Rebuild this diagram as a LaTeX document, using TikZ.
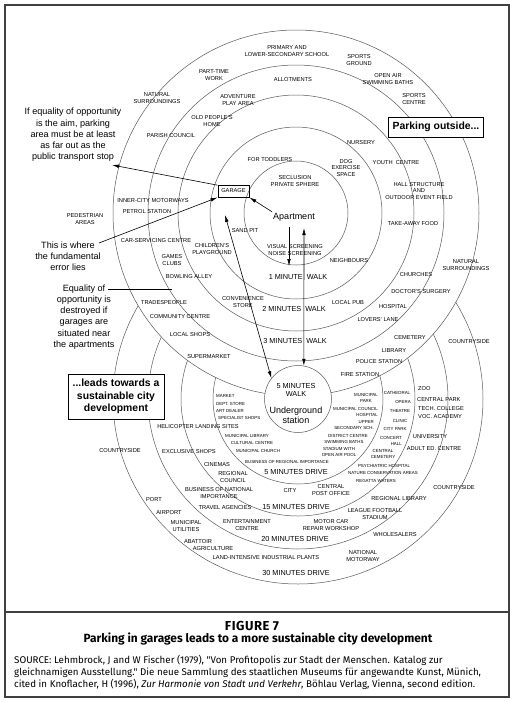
\documentclass[tikz,border=0pt]{standalone}
\usepackage{fontspec}
\setmainfont{Liberation Sans}
\newfontfamily\capfont{Fira Sans}
\newfontfamily\capwide[LetterSpace=4]{Fira Sans}
\usetikzlibrary{arrows.meta}
\newcommand{\lblfnt}{\fontsize{5.7}{6.8}\selectfont}
\newcommand{\smlfnt}{\fontsize{4.4}{6}\selectfont}
\newcommand{\bigfnt}{\fontsize{7.3}{8.6}\selectfont}
\newcommand{\notefnt}{\fontsize{9.1}{11.2}\selectfont}
\begin{document}
\begin{tikzpicture}[x=1pt,y=-1pt,
  lbl/.style={font=\lblfnt, align=center, inner sep=0pt},
  sml/.style={font=\smlfnt, align=center, inner sep=0pt},
  big/.style={font=\bigfnt, align=center, inner sep=0pt},
  note/.style={font=\notefnt, align=center, inner sep=0pt},
  ring/.style={draw=black!65, line width=0.5pt},
  frame/.style={draw=black!75, line width=1.3pt},
  boldbox/.style={draw, line width=1pt, fill=white, align=center, inner sep=2pt,
    font=\bfseries\fontsize{10.4}{12.5}\selectfont},
  arr/.style={line width=0.6pt, -{Latex[length=7pt,width=3.6pt]}},
  dbl/.style={line width=0.6pt, {Latex[length=7pt,width=3.6pt]}-{Latex[length=7pt,width=3.6pt]}},
  plainline/.style={line width=0.6pt},
  srcline/.style={font=\capfont\fontsize{9.75}{11}\selectfont, inner sep=0pt, anchor=base west}]
\useasboundingbox (0,0) rectangle (516,702);
% ---------------- rings
\coordinate (cU) at (296,213);
\coordinate (cL) at (298,399);
\foreach \r in {85,117,150,185} \draw[ring] (cL) circle[radius=\r pt];
\filldraw[ring, fill=white] (cU) circle[radius=183pt];
\foreach \r in {52,86,118,148} \draw[ring] (cU) circle[radius=\r pt];
\node[draw=black!65, line width=0.5pt, fill=white, circle, minimum size=67pt, inner sep=0pt] (stn) at (cL) {};
\node[big] (stn5) at (296,390) {5 MINUTES\\WALK};
\node[font=\fontsize{9}{10}\selectfont, align=center, inner sep=0pt] (stnU) at (296,415) {Underground\\station};
% ---------------- frame
\draw[frame] (5,5) rectangle (509,697);
\coordinate (sepL) at (5,612);
\coordinate (sepR) at (509,612);
\draw[frame] (sepL) -- (sepR);
% ---------------- upper labels
\node[lbl] (u1) at (157,98) {NATURAL\\SURROUNDINGS};
\node[lbl] (u2) at (214,75) {PART-TIME\\WORK};
\node[lbl] (u3) at (287,51) {PRIMARY AND\\LOWER-SECONDARY SCHOOL};
\node[lbl] (u4) at (359,60) {SPORTS\\GROUND};
\node[lbl] (u5) at (293,80) {ALLOTMENTS};
\node[lbl] (u6) at (388,79) {OPEN AIR\\SWIMMING BATHS};
\node[lbl] (u7) at (238,100) {ADVENTURE\\PLAY AREA};
\node[lbl] (u8) at (414,99) {SPORTS\\CENTRE};
\node[lbl] (u9) at (212,121) {OLD PEOPLE'S\\HOME};
\node[lbl] (u10) at (171,136) {PARISH COUNCIL};
\node[lbl] (u11) at (361,143) {NURSERY};
\node[lbl] (u12) at (270,160) {FOR TODDLERS};
\node[lbl] (u13) at (346,168) {DOG\\EXERCISE\\SPACE};
\node[lbl] (u14) at (396,163) {YOUTH\ \ CENTRE};
\node[lbl] (u15) at (295,181) {SECLUSION\\PRIVATE SPHERE};
\node[lbl] (u16) at (419,191) {HALL STRUCTURE\\AND\\OUTDOOR EVENT FIELD};
\node[lbl] (u17) at (153,201) {INNER-CITY MOTORWAYS};
\node[lbl] (u18) at (147,212) {PETROL STATION};
\node[lbl] (u19) at (85,219) {PEDESTRIAN\\AREAS};
\node[lbl] (u20) at (413,224) {TAKE-AWAY FOOD};
\node[lbl] (u21) at (245,231) {SAND PIT};
\node[lbl] (u22) at (156,241) {CAR-SERVICING CENTRE};
\node[lbl] (u23) at (212,249) {CHILDREN'S\\PLAYGROUND};
\node[lbl] (u24) at (295,250) {VISUAL SCREENING\\NOISE SCREENING};
\node[lbl] (u25) at (172,260) {GAMES\\CLUBS};
\node[lbl] (u26) at (349,261) {NEIGHBOURS};
\node[lbl] (u27) at (466,265) {NATURAL\\SURROUNDINGS};
\node[lbl] (u28) at (416,275) {CHURCHES};
\node[lbl] (u29) at (189,277) {BOWLING ALLEY};
\node[lbl] (u30) at (421,292) {DOCTOR'S SURGERY};
\node[lbl] (u31) at (243,302) {CONVENIENCE\\STORE};
\node[lbl] (u32) at (164,303) {TRADESPEOPLE};
\node[lbl] (u33) at (348,303) {LOCAL PUB};
\node[lbl] (u34) at (393,307) {HOSPITAL};
\node[lbl] (u35) at (180,317) {COMMUNITY CENTRE};
\node[lbl] (u36) at (378,320) {LOVERS' LANE};
\node[lbl] (u37) at (190,335) {LOCAL SHOPS};
\node[lbl] (u38) at (410,338) {CEMETERY};
\node[lbl] (u39) at (469,342) {COUNTRYSIDE};
\node[lbl] (u40) at (394,351) {LIBRARY};
\node[lbl] (u41) at (209,357) {SUPERMARKET};
\node[lbl] (u42) at (379,362) {POLICE STATION};
\node[lbl] (u43) at (360,375) {FIRE STATION};
\node[big] (w1) at (298,277) {1 MINUTE\hspace{4pt}WALK};
\node[big] (w2) at (294,309) {2 MINUTES\hspace{4pt}WALK};
\node[big] (w3) at (295,341) {3 MINUTES\hspace{4pt}WALK};
\node[font=\fontsize{9}{10}\selectfont, inner sep=1pt] (apt) at (294,217) {Apartment};
\node[draw, line width=0.9pt, minimum width=31pt, minimum height=12pt, inner sep=0pt, font=\lblfnt] (gar) at (233.5,191) {GARAGE};
% ---------------- lower labels
\node[sml, anchor=west] (l1) at (216,396) {MARKET};
\node[sml, anchor=west] (l2) at (216,404) {DEPT. STORE};
\node[sml, anchor=west] (l3) at (216,411) {ART DEALER};
\node[sml, anchor=west] (l4) at (218,418) {SPECIALIST SHOPS};
\node[lbl] (l5) at (198,427) {HELICOPTER LANDING SITES};
\node[sml] (l6) at (247,436) {MUNICIPAL LIBRARY};
\node[sml] (l7) at (252,443) {CULTURAL CENTRE};
\node[sml] (l8) at (258,451) {MUNICIPAL CHURCH};
\node[sml] (l9) at (287,462) {BUSINESS OF REGIONAL IMPORTANCE};
\node[lbl] (l10) at (120,451) {COUNTRYSIDE};
\node[lbl] (l11) at (189,452) {EXCLUSIVE SHOPS};
\node[lbl] (l12) at (217,465) {CINEMAS};
\node[lbl] (l13) at (233,477) {REGIONAL\\COUNCIL};
\node[lbl] (l14) at (219,493) {BUSINESS OF NATIONAL\\IMPORTANCE};
\node[lbl] (l15) at (290,491) {CITY};
\node[lbl] (l16) at (331,490) {CENTRAL\\POST OFFICE};
\node[lbl] (l17) at (225,508) {TRAVEL AGENCIES};
\node[big] (l18) at (296,507) {15 MINUTES DRIVE};
\node[lbl] (l19) at (154,500) {PORT};
\node[lbl] (l20) at (169,513) {AIRPORT};
\node[lbl] (l21) at (186,526) {MUNICIPAL\\UTILITIES};
\node[lbl] (l22) at (247,525) {ENTERTAINMENT\\CENTRE};
\node[lbl] (l23) at (331,525) {MOTOR CAR\\REPAIR WORKSHOP};
\node[big] (l24) at (295,539) {20 MINUTES DRIVE};
\node[lbl] (l25) at (198,542) {ABATTOIR};
\node[lbl] (l26) at (213,549) {AGRICULTURE};
\node[lbl] (l27) at (266,558) {LAND-INTENSIVE INDUSTRIAL PLANTS};
\node[lbl] (l28) at (363,556) {NATIONAL\\MOTORWAY};
\node[big] (l29) at (296,573) {30 MINUTES DRIVE};
\node[lbl] (l30) at (395,535) {WHOLESALERS};
\node[lbl] (l31) at (375,514) {LEAGUE FOOTBALL\\STADIUM};
\node[lbl] (l32) at (399,499) {REGIONAL LIBRARY};
\node[lbl] (l33) at (454,488) {COUNTRYSIDE};
\node[sml] (l34) at (376,481) {REGATTA WATERS};
\node[sml] (l35) at (383,473) {NATURE CONSERVATION AREAS};
\node[sml] (l36) at (384,466) {PSYCHIATRIC HOSPITAL};
\node[big] (l37) at (296,472) {5 MINUTES DRIVE};
\node[sml] (l38) at (383,454) {CENTRAL\\CEMETERY};
\node[sml] (l39) at (339,452) {STADIUM WITH\\OPEN AIR POOL};
\node[sml] (l40) at (344,442) {SWIMMING BATHS};
\node[sml] (l41) at (348,436) {DISTRICT CENTRE};
\node[sml, align=right, anchor=east] (l42) at (374,425.5) {UPPER\\SECONDARY SCH.};
\node[sml, align=right, anchor=east] (l43) at (378,411.5) {MUNICIPAL COUNCIL\\HOSPITAL};
\node[sml] (l44) at (366,398) {MUNICIPAL\\PARK};
\node[sml] (l45) at (397,393) {CATHEDRAL};
\node[sml] (l46) at (403,402) {OPERA};
\node[sml] (l47) at (400,411) {THEATRE};
\node[sml] (l48) at (400,421) {CLINIC};
\node[sml] (l49) at (395,429) {CITY PARK};
\node[sml, align=right, anchor=east] (l50) at (402,441) {CONCERT\\HALL};
\node[lbl, anchor=west] (l51) at (418,389) {ZOO};
\node[lbl, anchor=west] (l52) at (417,400) {CENTRAL PARK};
\node[lbl, anchor=west] (l53) at (418,409) {TECH. COLLEGE};
\node[lbl, anchor=west] (l54) at (418,417) {VOC. ACADEMY};
\node[lbl] (l55) at (430,437) {UNIVERSITY};
\node[lbl] (l56) at (434,449) {ADULT ED. CENTRE};
% ---------------- boxes and notes
\node[boldbox, minimum width=95pt, minimum height=20pt] (po) at (436,127) {Parking outside...};
\node[boldbox, minimum width=96pt, minimum height=45pt] (sus) at (116,396.5) {...leads towards a\\sustainable city\\development};
\node[note] (nq1) at (73,135) {If equality of opportunity\\is the aim, parking\\area must be at least\\as far out as the\\public transport stop};
\node[note] (nq2) at (68,256) {This is where\\the fundamental\\error lies};
\node[note] (nq3) at (84,317) {Equality of\\opportunity is\\destroyed if\\garages are\\situated near\\the apartments};
% ---------------- connectors
\coordinate (tipE) at (112,165);
\coordinate (errS) at (99,243);
\coordinate (eqL) at (108,289);
\coordinate (eqR) at (172,289);
\coordinate (bTop) at (289,227);
\coordinate (bTip) at (289,266);
\coordinate (cTop) at (304,228);
\coordinate (dTop) at (225,215);
\draw[arr] (apt.north west) -- (gar.south east);
\draw[arr] (gar.160) -- (tipE);
\draw[arr] (errS) -- (gar.south west);
\draw[plainline] (eqL) -- (eqR);
\draw[arr] (bTop) -- (bTip);
\draw[dbl] (cTop) -- (stn.80);
\draw[dbl] (dTop) -- (stn.142);
% ---------------- caption
\node[font=\capwide\bfseries\fontsize{13}{15}\selectfont, inner sep=0pt] (fig) at (252,626) {FIGURE 7};
\node[font=\capfont\bfseries\fontsize{11.9}{13}\selectfont, inner sep=0pt] (ttl) at (258,639) {Parking in garages leads to a more sustainable city development};
\node[srcline] (s1) at (14,663) {SOURCE: Lehmbrock, J and W Fischer (1979), "Von Profitopolis zur Stadt der Menschen. Katalog zur};
\node[srcline] (s2) at (14,675) {gleichnamigen Ausstellung." Die neue Sammlung des staatlichen Museums für angewandte Kunst, Münich,};
\node[srcline] (s3) at (14,687) {cited in Knoflacher, H (1996), \textit{Zur Harmonie von Stadt und Verkehr}, Böhlau Verlag, Vienna, second edition.};
\end{tikzpicture}
\end{document}
